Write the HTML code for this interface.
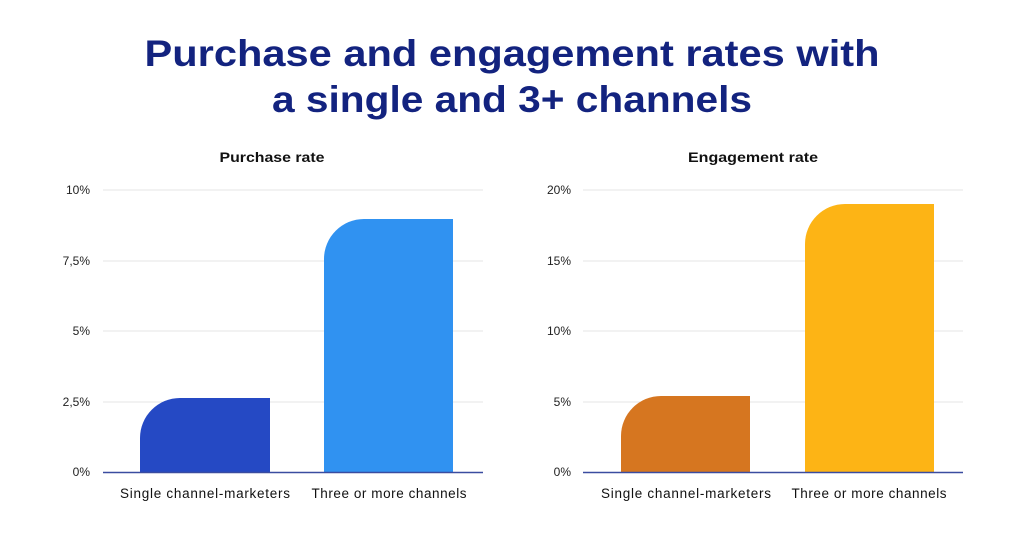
<!DOCTYPE html>
<html><head><style>
body{margin:0;width:1024px;height:536px;background:#fff;font-family:"Liberation Sans",sans-serif;overflow:hidden}
svg{display:block}
</style></head><body>
<svg width="1024" height="536" xmlns="http://www.w3.org/2000/svg" font-family="Liberation Sans, sans-serif">
<text x="512" y="66" text-anchor="middle" font-size="37" font-weight="bold" fill="#13237f" textLength="735" lengthAdjust="spacingAndGlyphs">Purchase and engagement rates with</text>
<text x="512" y="112" text-anchor="middle" font-size="37" font-weight="bold" fill="#13237f" textLength="480" lengthAdjust="spacingAndGlyphs">a single and 3+ channels</text>
<text x="272" y="162" text-anchor="middle" font-size="14" font-weight="bold" fill="#111" textLength="105" lengthAdjust="spacingAndGlyphs">Purchase rate</text>
<text x="753" y="162" text-anchor="middle" font-size="14" font-weight="bold" fill="#111" textLength="130" lengthAdjust="spacingAndGlyphs">Engagement rate</text>
<g stroke="#e6e6e6" stroke-width="1">
<line x1="103" y1="190" x2="483" y2="190"/><line x1="103" y1="261" x2="483" y2="261"/><line x1="103" y1="331" x2="483" y2="331"/><line x1="103" y1="402" x2="483" y2="402"/>
<line x1="583" y1="190" x2="963" y2="190"/><line x1="583" y1="261" x2="963" y2="261"/><line x1="583" y1="331" x2="963" y2="331"/><line x1="583" y1="402" x2="963" y2="402"/>
</g>
<g font-size="12" fill="#222" text-anchor="end">
<text x="90" y="194">10%</text><text x="90" y="265">7,5%</text><text x="90" y="335">5%</text><text x="90" y="406">2,5%</text><text x="90" y="476">0%</text>
<text x="571" y="194">20%</text><text x="571" y="265">15%</text><text x="571" y="335">10%</text><text x="571" y="406">5%</text><text x="571" y="476">0%</text>
</g>
<path d="M140 472 V438 A40 40 0 0 1 180 398 H270 V472 Z" fill="#2549c4"/>
<path d="M324 472 V259 A40 40 0 0 1 364 219 H453 V472 Z" fill="#3092f1"/>
<path d="M621 472 V436 A40 40 0 0 1 661 396 H750 V472 Z" fill="#d67620"/>
<path d="M805 472 V244 A40 40 0 0 1 845 204 H934 V472 Z" fill="#fdb415"/>
<line x1="103" y1="472.5" x2="483" y2="472.5" stroke="#3a4ca0" stroke-width="1.5"/>
<line x1="583" y1="472.5" x2="963" y2="472.5" stroke="#3a4ca0" stroke-width="1.5"/>
<g font-size="13.5" fill="#111" text-anchor="middle" lengthAdjust="spacingAndGlyphs">
<text x="205" y="498" textLength="170">Single channel-marketers</text><text x="389" y="498" textLength="155">Three or more channels</text>
<text x="686" y="498" textLength="170">Single channel-marketers</text><text x="869" y="498" textLength="155">Three or more channels</text>
</g>
</svg>
</body></html>
